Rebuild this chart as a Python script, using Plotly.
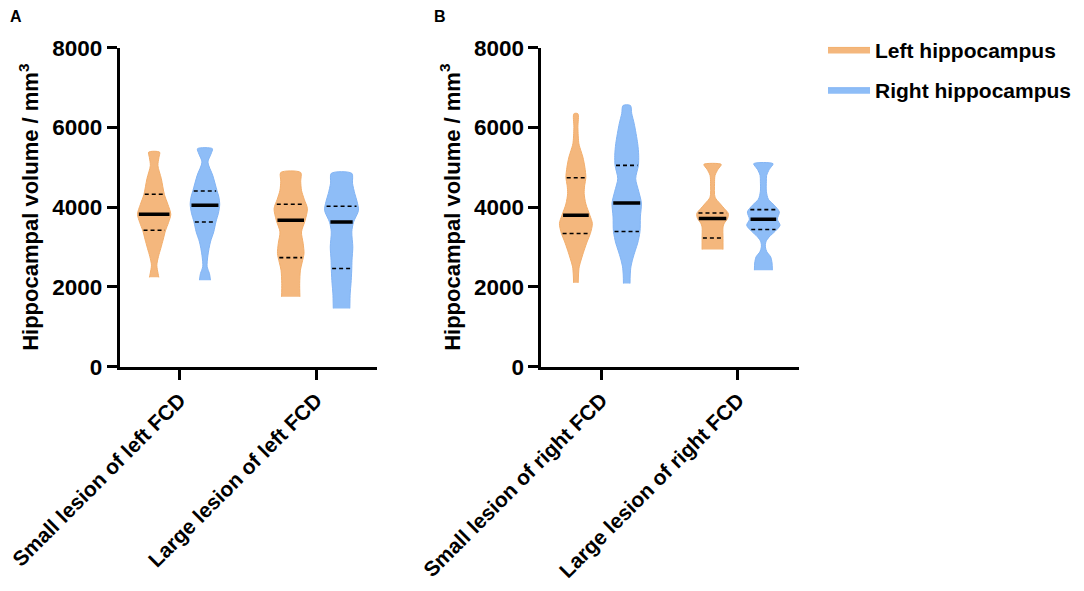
import numpy as np
import plotly.graph_objects as go

# categories
groups_a = ["Small lesion of left FCD", "Large lesion of left FCD"]
groups_b = ["Small lesion of right FCD", "Large lesion of right FCD"]
sides = ["Left hippocampus", "Right hippocampus"]

# violin outlines: volume levels (mm3) and half-width density
small_left_fcd_L_levels = [2240, 2330, 2545, 2760, 2970, 3200, 3405, 3620, 3822, 4070, 4315, 4715, 5042, 5250, 5380]
small_left_fcd_L_dens = [4.7, 4.0, 2.7, 4.3, 6.7, 9.2, 11.3, 14.5, 16.7, 13.8, 10.3, 7.2, 3.8, 4.8, 5.5]
small_left_fcd_R_levels = [2170, 2338, 2503, 2796, 3129, 3380, 3630, 3850, 4065, 4250, 4423, 4798, 5131, 5330, 5466]
small_left_fcd_R_dens = [5.5, 4.5, 2.2, 3.0, 5.5, 8.8, 11.0, 13.5, 14.8, 14.0, 12.0, 7.8, 3.0, 6.0, 7.5]
large_left_fcd_L_levels = [1752, 2087, 2420, 2620, 2838, 3088, 3380, 3672, 3965, 4200, 4423, 4650, 4870]
large_left_fcd_L_dens = [9.2, 9.0, 9.7, 11.5, 13.3, 12.5, 10.8, 14.5, 16.7, 13.5, 10.8, 10.0, 10.0]
large_left_fcd_R_levels = [1462, 1845, 2087, 2400, 2671, 3004, 3380, 3622, 3922, 4150, 4340, 4600, 4848]
large_left_fcd_R_dens = [8.3, 8.7, 9.5, 10.2, 10.5, 11.3, 10.3, 12.0, 17.0, 15.5, 13.3, 11.0, 10.3]

small_right_fcd_L_levels = [2103, 2300, 2503, 2700, 2921, 3150, 3339, 3590, 3797, 4080, 4340, 4550, 4740, 5000, 5256, 5418, 5592, 6000, 6343]
small_right_fcd_L_dens = [2.3, 2.6, 3.3, 5.5, 8.3, 11.5, 14.5, 16.5, 14.0, 10.0, 8.3, 8.8, 10.0, 9.0, 7.0, 5.0, 3.0, 2.0, 2.0]
small_right_fcd_R_levels = [2086, 2300, 2503, 2700, 2921, 3100, 3389, 3755, 4105, 4400, 4715, 5048, 5300, 5592, 6093, 6350, 6550]
small_right_fcd_R_dens = [3.3, 3.5, 4.2, 6.0, 8.7, 11.0, 13.3, 13.7, 14.7, 12.0, 9.0, 11.7, 12.0, 11.0, 7.5, 5.0, 3.7]
large_right_fcd_L_levels = [2938, 3213, 3505, 3600, 3714, 3840, 3960, 4090, 4250, 4590, 4798, 4950, 5073]
large_right_fcd_L_dens = [10.5, 10.5, 10.5, 11.8, 15.0, 15.8, 12.0, 7.5, 2.5, 2.0, 2.5, 5.5, 8.7]
large_right_fcd_R_levels = [2420, 2600, 2754, 2880, 3004, 3130, 3254, 3400, 3547, 3697, 3880, 4048, 4200, 4400, 4650, 4798, 4950, 5090]
large_right_fcd_R_dens = [9.0, 8.7, 7.3, 3.5, 2.0, 2.5, 5.8, 12.0, 16.7, 14.0, 16.0, 11.0, 5.0, 3.0, 3.0, 3.3, 6.0, 9.7]

# quartiles [q1, median, q3]
small_left_fcd_L_q = [3422, 3822, 4323]
small_left_fcd_R_q = [3630, 4050, 4405]
large_left_fcd_L_q = [2735, 3672, 4073]
large_left_fcd_R_q = [2463, 3630, 4025]
small_right_fcd_L_q = [3339, 3797, 4740]
small_right_fcd_R_q = [3389, 4105, 5048]
large_right_fcd_L_q = [3229, 3714, 3855]
large_right_fcd_R_q = [3439, 3697, 3940]

y_ticks = [0, 2000, 4000, 6000, 8000]

COLORS = {"Left hippocampus": "#F4B77D", "Right hippocampus": "#8EBDF7"}
EDGE = {"Left hippocampus": "#F2AE6C", "Right hippocampus": "#82B4F4"}
FONT = "Liberation Sans, Arial, sans-serif"
DENS_SCALE = 1 / 137.0  # density units -> category units
OFFSET = 0.186


def add_violin(fig, pos, levels, dens, quart, side, xa, ya, show):
    levels = np.array(levels, dtype=float)
    half = np.array(dens) * DENS_SCALE
    xs = list(pos + half) + list(pos - half[::-1])
    ys = list(levels) + list(levels[::-1])
    fig.add_trace(go.Scatter(
        x=xs, y=ys, fill='toself', mode='lines',
        line=dict(color=EDGE[side], width=1, shape='spline', smoothing=0.8),
        fillcolor=COLORS[side], name=side, legendgroup=side,
        showlegend=show, xaxis=xa, yaxis=ya, hoverinfo='skip'
    ))
    for i, v in enumerate(quart):
        w = np.interp(v, levels, half) * 0.92
        is_med = i == 1
        fig.add_trace(go.Scatter(
            x=[pos - w, pos + w], y=[v, v], mode='lines',
            line=dict(color='black', width=3.5 if is_med else 1.6,
                      dash='solid' if is_med else '4px,3px'),
            showlegend=False, xaxis=xa, yaxis=ya, hoverinfo='skip'
        ))


fig = go.Figure()

panel_a = [
    (0, small_left_fcd_L_levels, small_left_fcd_L_dens, small_left_fcd_L_q,
     small_left_fcd_R_levels, small_left_fcd_R_dens, small_left_fcd_R_q),
    (1, large_left_fcd_L_levels, large_left_fcd_L_dens, large_left_fcd_L_q,
     large_left_fcd_R_levels, large_left_fcd_R_dens, large_left_fcd_R_q),
]
panel_b = [
    (0, small_right_fcd_L_levels, small_right_fcd_L_dens, small_right_fcd_L_q,
     small_right_fcd_R_levels, small_right_fcd_R_dens, small_right_fcd_R_q),
    (1, large_right_fcd_L_levels, large_right_fcd_L_dens, large_right_fcd_L_q,
     large_right_fcd_R_levels, large_right_fcd_R_dens, large_right_fcd_R_q),
]

first = True
for panel, xa, ya in [(panel_a, 'x', 'y'), (panel_b, 'x2', 'y2')]:
    for pos, ll, ld, lq, rl, rd, rq in panel:
        add_violin(fig, pos - OFFSET, ll, ld, lq, sides[0], xa, ya, first)
        add_violin(fig, pos + OFFSET, rl, rd, rq, sides[1], xa, ya, first)
        first = False

ytick_font = dict(family=FONT, size=22.5, color='black', weight='bold')
xtick_font = dict(family=FONT, size=21, color='black', weight='bold')
xcommon = dict(range=[-0.438, 1.445], tickvals=[0, 1], showline=True, linewidth=3,
               linecolor='black', ticks='outside', ticklen=10, tickwidth=3,
               tickcolor='black', tickangle=-45, tickfont=xtick_font,
               ticklabeloverflow='allow', showgrid=False, zeroline=False,
               automargin=False)
ycommon = dict(range=[0, 8000], tickvals=y_ticks, showline=True, linewidth=3,
               linecolor='black', ticks='outside', ticklen=10, tickwidth=3,
               tickcolor='black', tickfont=ytick_font, showgrid=False,
               zeroline=False, automargin=False,
               title=dict(text="Hippocampal volume / mm<sup>3</sup>",
                          font=dict(family=FONT, size=22, color='black', weight='bold'),
                          standoff=8))

fig.update_layout(
    width=1068, height=575,
    margin=dict(l=0, r=0, t=0, b=0),
    paper_bgcolor='white', plot_bgcolor='white',
    xaxis=dict(domain=[0.1049, 0.3464], ticktext=groups_a, anchor='y', **xcommon),
    yaxis=dict(domain=[0.3762, 0.9310], anchor='x', **ycommon),
    xaxis2=dict(domain=[0.5009, 0.7425], ticktext=groups_b, anchor='y2', **xcommon),
    yaxis2=dict(domain=[0.3762, 0.9310], anchor='x2', **ycommon),
    legend=dict(x=0.7655, y=0.963, xanchor='left', yanchor='top',
                font=dict(family=FONT, size=21, color='black', weight='bold'),
                tracegroupgap=10, itemwidth=42, bgcolor='rgba(0,0,0,0)'),
    showlegend=True,
    annotations=[
        dict(text="A", x=0.0, y=1.004, xref='paper', yref='paper', showarrow=False,
             xanchor='left', yanchor='top', font=dict(family=FONT, size=16, color='black', weight='bold')),
        dict(text="B", x=0.3985, y=1.004, xref='paper', yref='paper', showarrow=False,
             xanchor='left', yanchor='top', font=dict(family=FONT, size=16, color='black', weight='bold')),
    ],
)

fig.write_html("out.html")
